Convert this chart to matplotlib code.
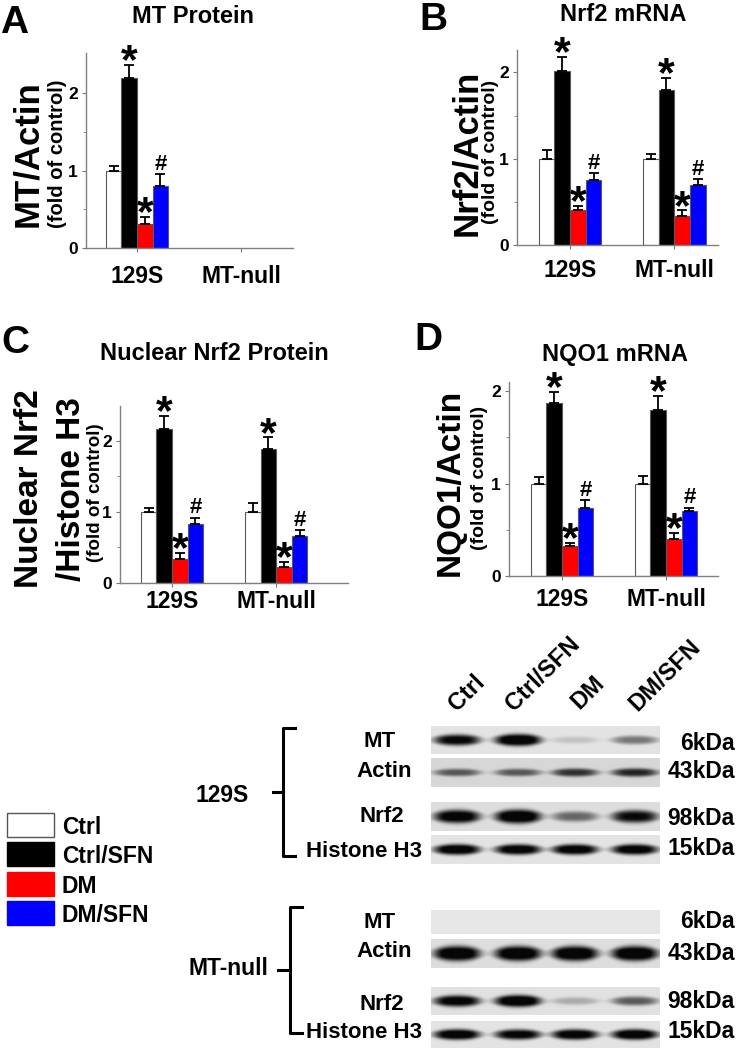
"""
SFN effects on MT, Nrf2 and NQO1 in 129S and MT-null hearts (bars + blots)
"""

import numpy as np
import matplotlib
matplotlib.use("Agg")
import matplotlib.pyplot as plt
from matplotlib.patches import Rectangle

plt.rcParams['font.family'] = ['Liberation Sans', 'DejaVu Sans']
plt.rcParams['font.weight'] = 'bold'

groups = ['129S', 'MT-null']
treatments = ['Ctrl', 'Ctrl/SFN', 'DM', 'DM/SFN']
colors = ['white', 'black', '#ff0000', '#0000ff']
marks = ['', '*', '*', '#']

# A: MT protein, only 129S (MT-null has none)
mt_protein = [[1.00, 2.20, 0.31, 0.80]]
mt_protein_err = [[0.06, 0.17, 0.09, 0.16]]

# B: Nrf2 mRNA
nrf2_mrna = [[1.00, 2.02, 0.41, 0.75], [1.00, 1.80, 0.34, 0.69]]
nrf2_mrna_err = [[0.10, 0.16, 0.04, 0.08], [0.06, 0.14, 0.06, 0.07]]

# C: nuclear Nrf2 protein
nuclear_nrf2 = [[1.00, 2.16, 0.34, 0.83], [1.00, 1.88, 0.23, 0.66]]
nuclear_nrf2_err = [[0.06, 0.19, 0.08, 0.09], [0.12, 0.17, 0.07, 0.09]]

# D: NQO1 mRNA
nqo1_mrna = [[1.00, 1.87, 0.32, 0.74], [1.00, 1.80, 0.40, 0.70]]
nqo1_mrna_err = [[0.07, 0.12, 0.04, 0.08], [0.08, 0.15, 0.07, 0.04]]

# western blot band darkness per lane (0 = nothing, 1 = saturated)
blot_rows = ['MT', 'Actin', 'Nrf2', 'Histone H3']
blot_kda = ['6kDa', '43kDa', '98kDa', '15kDa']
bands_129s = [
    [0.85, 1.00, 0.12, 0.40],
    [0.50, 0.50, 0.65, 0.70],
    [0.92, 1.00, 0.45, 0.82],
    [0.95, 0.92, 0.92, 0.92],
]
bands_mtnull = [
    [0.00, 0.00, 0.00, 0.00],
    [1.00, 1.00, 1.00, 1.00],
    [0.90, 1.00, 0.20, 0.50],
    [0.95, 0.88, 0.92, 0.95],
]

W, H = 737, 1050
fig = plt.figure(figsize=(W / 100, H / 100), dpi=100)

# overlay in pixel coordinates for the free text, legend and blots
ov = fig.add_axes([0, 0, 1, 1])
ov.axis('off')


def bar_panel(rect, values, errs, ylim, xlim, xpad):
    l, t, r, b = rect
    ax = fig.add_axes([l / W, 1 - b / H, (r - l) / W, (b - t) / H])
    ax.patch.set_alpha(0)
    w = 0.15
    for gi, (vals, es) in enumerate(zip(values, errs)):
        for k in range(4):
            x = gi + (k - 1.5) * w
            ax.bar(x, vals[k], w, color=colors[k], edgecolor='#5a5a5a',
                   linewidth=0.8, zorder=2)
            ax.errorbar(x, vals[k], yerr=[[0], [es[k]]], fmt='none',
                        ecolor='black', elinewidth=1.3, capsize=3.3,
                        capthick=1.3, zorder=3)
            if marks[k] == '*':
                ax.annotate('*', (x, vals[k] + es[k]), xytext=(0, -6),
                            textcoords='offset points', ha='center',
                            va='baseline', fontsize=31)
            elif marks[k] == '#':
                ax.annotate('#', (x, vals[k] + es[k]), xytext=(0, 3),
                            textcoords='offset points', ha='center',
                            va='baseline', fontsize=16)
    ax.set_xlim(*xlim)
    ax.set_ylim(*ylim)
    ax.set_xticks(range(len(groups)))
    ax.set_xticklabels(groups, fontsize=16.5)
    ax.set_yticks([0, 1, 2])
    ax.set_yticks([0.5, 1.5], minor=True)
    ax.tick_params(axis='y', which='major', labelsize=12.5, length=3,
                   color='#777777', pad=3)
    ax.tick_params(axis='y', which='minor', length=2, color='#777777')
    ax.tick_params(axis='x', length=3, color='#777777', pad=xpad)
    for s in ['top', 'right']:
        ax.spines[s].set_visible(False)
    for s in ['left', 'bottom']:
        ax.spines[s].set_color('#808080')
        ax.spines[s].set_linewidth(1)
    return ax


bar_panel((86, 53, 293, 248), mt_protein, mt_protein_err,
          (0, 2.52), (-0.49, 1.5), 9)
bar_panel((517, 50, 718, 245), nrf2_mrna, nrf2_mrna_err,
          (0, 2.26), (-0.51, 1.42), 7)
bar_panel((120, 406, 348, 583), nuclear_nrf2, nuclear_nrf2_err,
          (0, 2.49), (-0.5, 1.69), 2)
bar_panel((509, 382, 718, 576), nqo1_mrna, nqo1_mrna_err,
          (0, 2.10), (-0.51, 1.5), 6)

# panel letters and titles
for letter, x, y in [('A', 0, 33), ('B', 419, 30), ('C', 1, 353), ('D', 414, 350)]:
    ov.text(x, y, letter, fontsize=28, ha='left', va='baseline')
for title, x, y in [('MT Protein', 193, 23), ('Nrf2 mRNA', 623, 21),
                    ('Nuclear Nrf2 Protein', 214, 360), ('NQO1 mRNA', 615, 361)]:
    ov.text(x, y, title, fontsize=17, ha='center', va='baseline')

# y labels
ylab_kw = dict(rotation=90, rotation_mode='anchor', ha='center', va='baseline')
ov.text(37, 154, 'MT/Actin', fontsize=25, **ylab_kw)
ov.text(63, 154, '(fold of control)', fontsize=14.5, **ylab_kw)
ov.text(476, 153, 'Nrf2/Actin', fontsize=25, **ylab_kw)
ov.text(495, 152, '(fold of control)', fontsize=14, **ylab_kw)
ov.text(38, 489, 'Nuclear Nrf2', fontsize=24, **ylab_kw)
ov.text(80, 489, '/Histone H3', fontsize=24, **ylab_kw)
ov.text(100, 493, '(fold of control)', fontsize=13.5, **ylab_kw)
ov.text(459, 482, 'NQO1/Actin', fontsize=24, **ylab_kw)
ov.text(484, 478, '(fold of control)', fontsize=14, **ylab_kw)

# legend
legend_top = [813, 842, 872, 901]
for k, (lab, col) in enumerate(zip(treatments, colors)):
    y0 = legend_top[k]
    ov.add_patch(Rectangle((7, y0), 47, 24, facecolor=col,
                           edgecolor='#555555' if k == 0 else col, lw=1))
    ov.text(62, y0 + 21, lab, fontsize=16.5, ha='left', va='baseline')

# blots
blot_x0, blot_x1 = 431, 660
lane_x = [457, 518, 575, 635]
band_half = 23


def blot_strip(y0, y1, dark, bg, thick):
    nx = (blot_x1 - blot_x0) * 2
    ny = int((y1 - y0) * 2)
    X, Y = np.meshgrid(np.linspace(blot_x0, blot_x1, nx), np.linspace(y0, y1, ny))
    img = np.full(X.shape, bg)
    yc = (y0 + y1) / 2
    for cx, d in zip(lane_x, dark):
        u = np.abs(X - cx) / band_half
        fx = np.exp(-u ** 4)
        sy = thick * (0.55 + 0.45 * d) * np.clip(1 - 0.35 * u ** 2, 0.3, 1)
        fy = np.exp(-(np.abs(Y - yc) / sy) ** 3)
        img -= (bg - 0.03) * np.clip(1.25 * d * fx * fy, 0, 1)
    ov.imshow(img, cmap='gray', vmin=0, vmax=1, extent=(blot_x0, blot_x1, y1, y0),
              interpolation='bilinear', aspect='auto', zorder=1)


strips_129s = [(726, 754), (758, 787), (802, 831), (835, 864)]
strips_null = [(910, 934), (939, 968), (987, 1015), (1021, 1048)]
for (y0, y1), dark, bg, th in zip(strips_129s, bands_129s,
                                  [0.89, 0.84, 0.87, 0.89], [6, 5, 7, 5.5]):
    blot_strip(y0, y1, dark, bg, th)
for (y0, y1), dark, bg, th in zip(strips_null, bands_mtnull,
                                  [0.9, 0.87, 0.88, 0.89], [6, 7.5, 6, 5.5]):
    blot_strip(y0, y1, dark, bg, th)

row_x = [380, 384, 382, 364]
base_129s = [747, 777, 822, 857]
base_null = [928, 957, 1010, 1038]
kda_129s = [750, 778, 825, 855]
kda_null = [928, 960, 1008, 1038]
for k in range(4):
    ov.text(row_x[k], base_129s[k], blot_rows[k], fontsize=16, ha='center', va='baseline')
    ov.text(row_x[k], base_null[k], blot_rows[k], fontsize=16, ha='center', va='baseline')
    ov.text(735, kda_129s[k], blot_kda[k], fontsize=16.5, ha='right', va='baseline')
    ov.text(735, kda_null[k], blot_kda[k], fontsize=16.5, ha='right', va='baseline')

lane_anchor = [(457, 712), (514, 712), (579, 710), (637, 712)]
for lab, (x, y) in zip(treatments, lane_anchor):
    ov.text(x, y, lab, fontsize=17, rotation=45, rotation_mode='anchor',
            ha='left', va='baseline')

# braces for strain groups
for lab, xb, ytop, ybot, ymid, xl, base, cx in [
        ('129S', 283, 728, 856, 792, 273, 802, 222),
        ('MT-null', 290, 907, 1033, 970, 278, 975, 228)]:
    ov.plot([xb + 12, xb, xb, xb + 12], [ytop, ytop, ybot, ybot], color='black', lw=2.2,
            solid_joinstyle='round')
    ov.plot([xl, xb], [ymid, ymid], color='black', lw=2.2)
    ov.text(cx, base, lab, fontsize=16.5, ha='center', va='baseline')

ov.set_xlim(0, W)
ov.set_ylim(H, 0)

fig.savefig('out.png', dpi=100)
